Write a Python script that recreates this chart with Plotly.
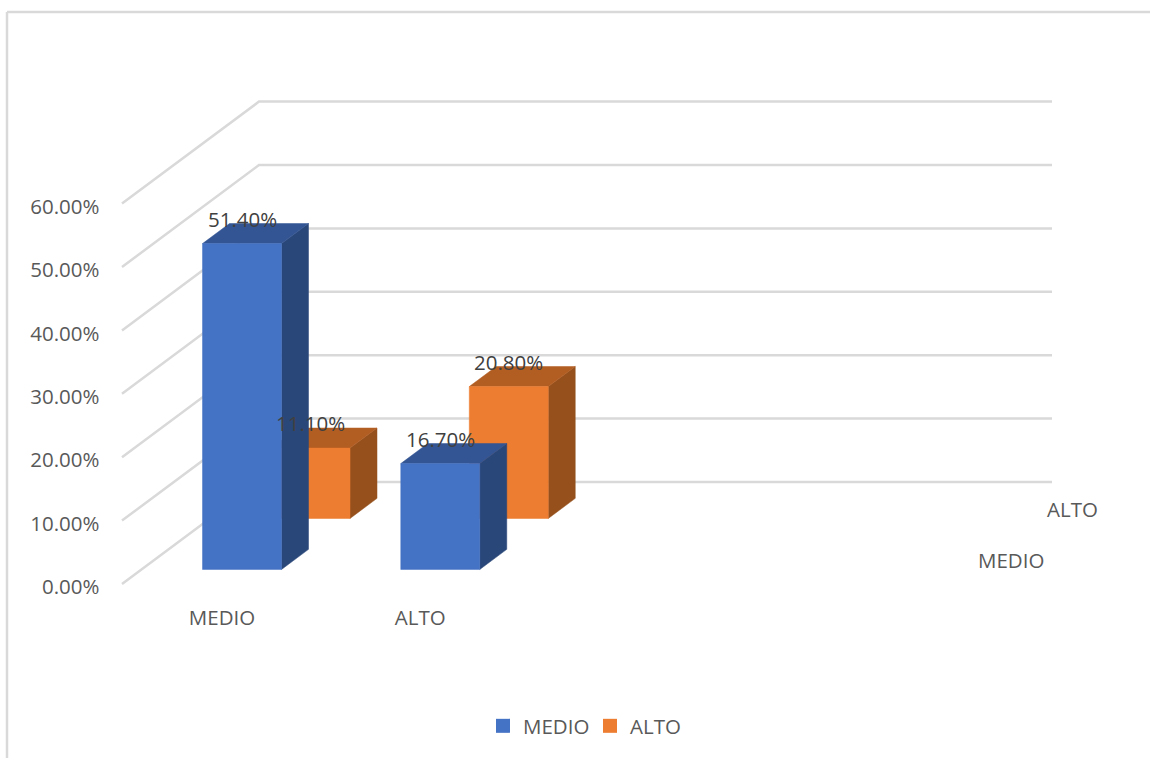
import plotly.graph_objects as go

# ---- data ----
categories = ["MEDIO", "ALTO"]
series_names = ["MEDIO", "ALTO"]
medio_values = [51.4, 16.7]
alto_values = [11.1, 20.8]
tick_values = [0, 10, 20, 30, 40, 50, 60]
tick_labels = ["0.00%", "10.00%", "20.00%", "30.00%", "40.00%", "50.00%", "60.00%"]
series_colors = ["#4472C4", "#ED7D31"]
side_colors = ["#2A4779", "#95501C"]
top_colors = ["#335593", "#B25D22"]

# ---- oblique projection of the 3-D chart box ----
W, H = 1150, 758
X0, Y0 = 122.0, 584.0       # front-left floor corner, px
PX_PER_UNIT = 6.34          # px per percentage point
SLOT = 198.25               # width of a category slot
N_SLOTS = 4
ROW_DX, ROW_DY = 68.5, 51.0 # shift per depth row, px
BAR_GAP, BAR_W = 61.0, 79.0
BAR_D0, BAR_DEPTH = 0.285, 0.394
GRID = "#D9D9D9"
FONT = "Open Sans"
FONT_SIZE = 20.5
TICK_COLOR = "#595959"
LABEL_COLOR = "#404040"


def proj(x, depth, value):
    """x in px along the front edge, depth in rows, value in %: returns plot coords."""
    return X0 + x + depth * ROW_DX, value + depth * ROW_DY / PX_PER_UNIT


def poly(points):
    xs, ys = zip(*(proj(*p) for p in points + points[:1]))
    return list(xs), list(ys)


fig = go.Figure()


def add_line(points):
    xs, ys = zip(*(proj(*p) for p in points))
    fig.add_trace(go.Scatter(x=list(xs), y=list(ys), mode="lines", showlegend=False,
                             hoverinfo="skip", line=dict(color=GRID, width=2.5)))


# walls
for v in tick_values:
    add_line([(0, 0, v), (0, 2, v), (SLOT * N_SLOTS, 2, v)])


def add_face(points, color):
    xs, ys = poly(points)
    fig.add_trace(go.Scatter(x=xs, y=ys, mode="lines", fill="toself", fillcolor=color,
                             showlegend=False, hoverinfo="skip",
                             line=dict(color=color, width=0.5)))


all_values = [medio_values, alto_values]
annotations = []

# bars, rear row first
for s in (1, 0):
    for c, v in enumerate(all_values[s]):
        x0 = c * SLOT + BAR_GAP
        x1 = x0 + BAR_W
        d0 = s + BAR_D0
        d1 = d0 + BAR_DEPTH
        add_face([(x1, d0, 0), (x1, d1, 0), (x1, d1, v), (x1, d0, v)], side_colors[s])
        add_face([(x0, d0, v), (x1, d0, v), (x1, d1, v), (x0, d1, v)], top_colors[s])
        add_face([(x0, d0, 0), (x1, d0, 0), (x1, d0, v), (x0, d0, v)], series_colors[s])

# data labels on top of everything
for s in (1, 0):
    for c, v in enumerate(all_values[s]):
        px, py = proj(c * SLOT + BAR_GAP + BAR_W / 2, s + BAR_D0, v)
        annotations.append(dict(x=px, y=py, xref="x", yref="y", text=f"{v:.2f}%", showarrow=False,
                                xanchor="center", yanchor="middle", yshift=25,
                                font=dict(family=FONT, size=FONT_SIZE, color=LABEL_COLOR)))

# depth axis labels
for s, name in enumerate(series_names):
    px, py = proj(SLOT * N_SLOTS, s + 0.5, 0)
    annotations.append(dict(x=px, y=py, xref="x", yref="y", text=name, showarrow=False,
                            xanchor="left", yanchor="middle", xshift=27, yshift=-1,
                            font=dict(family=FONT, size=FONT_SIZE, color=TICK_COLOR)))

# legend entries
for s, name in enumerate(series_names):
    fig.add_trace(go.Scatter(x=[None], y=[None], mode="markers", name=name,
                             marker=dict(symbol="square", size=14, color=series_colors[s])))

cat_ticks = [X0 + c * SLOT + 100 for c in range(len(categories))]
y_min = (Y0 - H) / PX_PER_UNIT
y_max = Y0 / PX_PER_UNIT

fig.update_layout(
    width=W, height=H, autosize=False,
    margin=dict(l=0, r=0, t=0, b=0),
    paper_bgcolor="white", plot_bgcolor="white",
    font=dict(family=FONT, size=FONT_SIZE, color=TICK_COLOR),
    xaxis=dict(range=[0, W], domain=[0, 1], showgrid=False, zeroline=False, showline=False,
               anchor="free", position=(H - 603) / H, side="bottom",
               tickmode="array", tickvals=cat_ticks, ticktext=categories, ticks="",
               tickfont=dict(family=FONT, size=FONT_SIZE, color=TICK_COLOR), fixedrange=True),
    yaxis=dict(range=[y_min, y_max], domain=[0, 1], showgrid=False, zeroline=False, showline=False,
               anchor="free", position=99.5 / W, side="left",
               tickmode="array", tickvals=tick_values, ticktext=tick_labels, ticks="",
               ticklabelshift=3,
               tickfont=dict(family=FONT, size=FONT_SIZE, color=TICK_COLOR), fixedrange=True),
    legend=dict(orientation="h", x=483 / W, xanchor="left", y=(H - 726) / H, yanchor="middle",
                entrywidth=62, entrywidthmode="pixels",
                font=dict(family=FONT, size=FONT_SIZE, color=TICK_COLOR), bgcolor="rgba(0,0,0,0)"),
    annotations=annotations,
    shapes=[
        dict(type="line", xref="paper", yref="paper", x0=7 / W, x1=1, y0=1 - 12 / H, y1=1 - 12 / H,
             line=dict(color=GRID, width=2.5)),
        dict(type="line", xref="paper", yref="paper", x0=7 / W, x1=7 / W, y0=0, y1=1 - 12 / H,
             line=dict(color=GRID, width=2.5)),
    ],
)

fig.write_html("out.html", config={"displayModeBar": False},
               post_script="document.body.style.margin='0';")
